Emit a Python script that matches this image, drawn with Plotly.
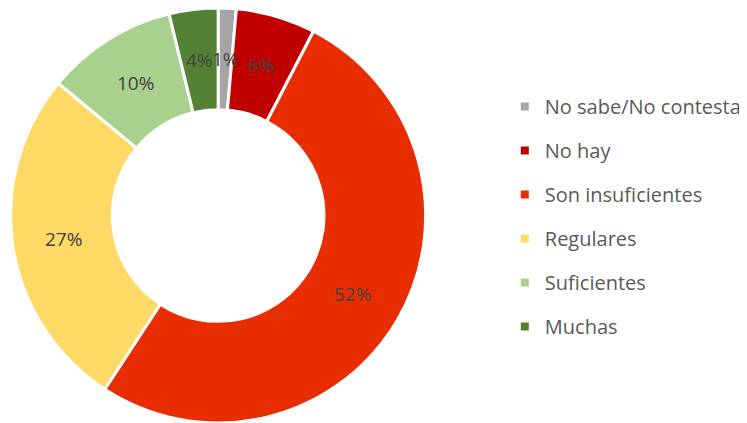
import math
import plotly.graph_objects as go

labels = ["No sabe/No contesta", "No hay", "Son insuficientes", "Regulares", "Suficientes", "Muchas"]
values = [1.4, 6.2, 51.6, 26.8, 10.2, 3.8]
pct_text = ["1%", "6%", "52%", "27%", "10%", "4%"]
colors = ["#A5A5A5", "#C00000", "#E82E00", "#FFD966", "#A9D18E", "#548235"]

W, H = 739, 415  # page body has an 8px margin in the viewer
HOLE = 0.51
dom_x = [0, 422 / W]

fig = go.Figure()
fig.add_trace(go.Pie(
    labels=labels, values=values, hole=HOLE, sort=False, direction="clockwise", rotation=0,
    marker=dict(colors=colors, line=dict(color="white", width=3)),
    textinfo="none", showlegend=False, domain=dict(x=dom_x, y=[0, 1]),
    hovertemplate="%{label}: %{percent:.0%}<extra></extra>",
))
for lab, col in zip(labels, colors):
    fig.add_trace(go.Scatter(x=[None], y=[None], mode="markers", name=lab, legendgroup=lab,
                             marker=dict(symbol="square", size=8, color=col)))

# data labels at the middle of each ring segment
cx_px = (dom_x[0] + dom_x[1]) / 2 * W
cy_px = H / 2
R = min((dom_x[1] - dom_x[0]) * W, H) / 2
r_mid = R * (1 + HOLE) / 2
total = sum(values)
cum = 0
for v, t in zip(values, pct_text):
    ang = 2 * math.pi * (cum + v / 2) / total
    cum += v
    x = (cx_px + r_mid * math.sin(ang)) / W
    y = (cy_px + r_mid * math.cos(ang)) / H
    fig.add_annotation(x=x, y=y, xref="paper", yref="paper", text=t, showarrow=False,
                       font=dict(family="Open Sans", size=19, color="#404040"),
                       xanchor="center", yanchor="middle")

fig.update_layout(
    width=W, height=H, margin=dict(l=0, r=0, t=0, b=0),
    paper_bgcolor="white", plot_bgcolor="white",
    xaxis=dict(visible=False), yaxis=dict(visible=False),
    legend=dict(x=0.675, y=0.4976, xanchor="left", yanchor="middle", tracegroupgap=15,
                font=dict(family="Open Sans", size=20, color="#595959"), itemwidth=30),
    font=dict(family="Open Sans"),
)
fig.write_html("out.html")
